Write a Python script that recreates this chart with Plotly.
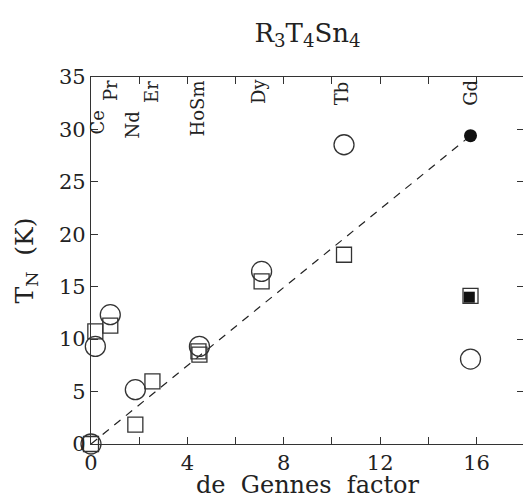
import plotly.graph_objects as go

# de Gennes factors of the rare earths
elements = ["Ce", "Pr", "Nd", "Er", "HoSm", "Dy", "Tb", "Gd"]
label_x = [0.25, 0.79, 1.74, 2.53, 4.40, 6.93, 10.41, 15.72]
label_y = [30.66, 33.66, 30.47, 33.57, 32.0, 33.66, 33.43, 33.47]

# open circles
circ_x = [0.0, 0.18, 0.80, 1.84, 4.50, 7.08, 10.50, 15.75]
circ_y = [0.0, 9.31, 12.33, 5.18, 9.31, 16.46, 28.54, 8.10]

# open squares
sq_x = [0.0, 0.18, 0.80, 1.84, 2.55, 4.46, 4.50, 7.08, 10.50, 15.75]
sq_y = [0.0, 10.74, 11.28, 1.84, 5.97, 8.83, 8.52, 15.51, 18.05, 14.13]

# filled symbols
fcirc_x = [15.75]
fcirc_y = [29.40]
fsq_x = [15.70]
fsq_y = [14.00]

# dashed guide line through origin and Gd
line_x = [0.0, 15.75]
line_y = [0.0, 29.40]

FONT = "DejaVu Serif"
INK = "#222222"

fig = go.Figure()
fig.add_trace(go.Scatter(x=line_x, y=line_y, mode="lines",
                         line=dict(color=INK, width=1.2, dash="8px,7px"),
                         hoverinfo="skip", showlegend=False))
fig.add_trace(go.Scatter(x=circ_x, y=circ_y, mode="markers", cliponaxis=False,
                         marker=dict(symbol="circle-open", size=20, color="#333333",
                                     line=dict(width=1.3, color="#333333")),
                         showlegend=False))
fig.add_trace(go.Scatter(x=sq_x, y=sq_y, mode="markers", cliponaxis=False,
                         marker=dict(symbol="square-open", size=15, color="#333333",
                                     line=dict(width=1.3, color="#333333")),
                         showlegend=False))
fig.add_trace(go.Scatter(x=fcirc_x, y=fcirc_y, mode="markers", cliponaxis=False,
                         marker=dict(symbol="circle", size=13, color="#111111"),
                         showlegend=False))
fig.add_trace(go.Scatter(x=fsq_x, y=fsq_y, mode="markers", cliponaxis=False,
                         marker=dict(symbol="square", size=11, color="#111111"),
                         showlegend=False))

for name, xv, yv in zip(elements, label_x, label_y):
    fig.add_annotation(x=xv, y=yv, xref="x", yref="y", text=name, textangle=-90,
                       showarrow=False, xanchor="center", yanchor="middle",
                       font=dict(family=FONT, size=18, color=INK))

# the right frame line of the original lies just beyond the picture edge
fig.add_shape(type="rect", xref="paper", yref="paper", x0=0.9977, x1=1.01,
              y0=-0.02, y1=1.02, fillcolor="white", line=dict(width=0), layer="above")

fig.update_layout(
    width=524, height=499,
    margin=dict(l=91, r=0, t=77, b=55),
    paper_bgcolor="white", plot_bgcolor="white",
    title=dict(text="R<sub>3</sub>T<sub>4</sub>Sn<sub>4</sub>", x=0.5, xref="paper",
               y=0.935, yref="container", yanchor="middle",
               font=dict(family=FONT, size=26, color=INK)),
    font=dict(family=FONT, color=INK),
)
fig.update_xaxes(range=[0, 17.97], tickmode="array", tickvals=[0, 4, 8, 12, 16],
                 ticks="inside", ticklen=7, tickwidth=1.2, tickcolor="#333333",
                 minor=dict(dtick=2, tick0=0, ticks="inside", ticklen=7, tickwidth=1.2,
                            tickcolor="#333333"),
                 showline=True, linecolor="#333333", linewidth=1.3, mirror="ticks",
                 showgrid=False, zeroline=False,
                 tickfont=dict(family=FONT, size=21, color=INK),
                 title=dict(text="de  Gennes  factor", standoff=2,
                            font=dict(family=FONT, size=24, color=INK)))
fig.update_yaxes(range=[0, 35], dtick=5, tick0=0,
                 ticks="inside", ticklen=7, tickwidth=1.2, tickcolor="#333333",
                 showline=True, linecolor="#333333", linewidth=1.3, mirror="ticks",
                 showgrid=False, zeroline=False,
                 tickfont=dict(family=FONT, size=21, color=INK),
                 title=dict(text="T<sub>N</sub>  (K)", standoff=18,
                            font=dict(family=FONT, size=25, color=INK)))

fig.write_html("out.html", config={"displayModeBar": False},
               post_script="document.body.style.margin='0';document.documentElement.style.overflow='hidden';")
